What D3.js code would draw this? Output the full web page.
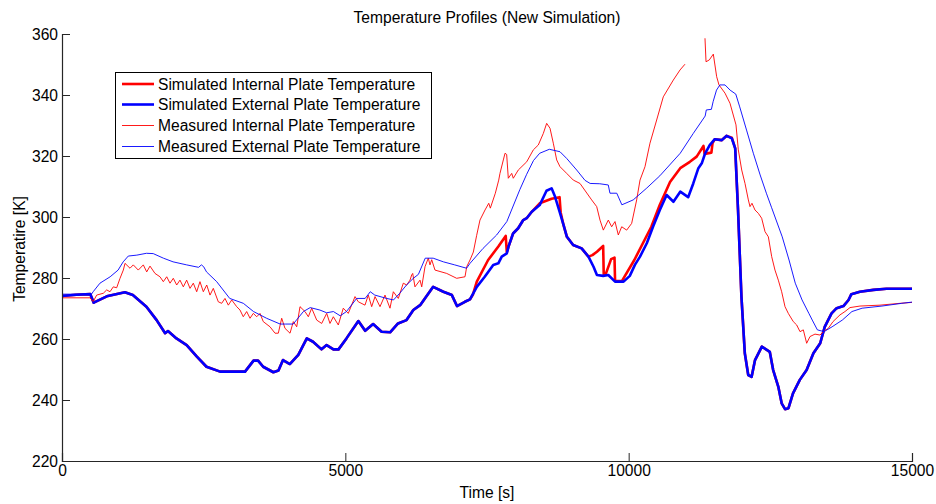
<!DOCTYPE html>
<html><head><meta charset="utf-8">
<script src="https://cdn.jsdelivr.net/npm/d3@7"></script>
<style>
html,body{margin:0;padding:0;background:#fff;}
svg{display:block;font-family:"Liberation Sans",Arial,Helvetica,sans-serif;}
</style></head><body>
<svg id="chart" width="936" height="504"></svg>
<script>
// ---- data ----
const chartTitle = "Temperature Profiles (New Simulation)";
const xLabel = "Time [s]";
const yLabel = "Temperatire [K]";
const xTicks = [0, 5000, 10000, 15000];
const yTicks = [220, 240, 260, 280, 300, 320, 340, 360];
const seriesNames = ["Simulated Internal Plate Temperature","Simulated External Plate Temperature","Measured Internal Plate Temperature","Measured External Plate Temperature"];

const simExternal = [[0,274.1],[250,274.5],[500,274.7],[560,271.9],[790,274],[1110,275.3],[1250,274.4],[1490,270.6],[1670,266.2],[1820,261.9],[1870,262.6],[2020,260.2],[2200,258],[2380,254.2],[2550,250.9],[2790,249.3],[3020,249.3],[3230,249.3],[3380,252.9],[3460,252.9],[3550,250.9],[3730,249.1],[3820,249.7],[3900,253.1],[4020,251.8],[4170,254.8],[4320,260.2],[4430,259.1],[4580,256.6],[4670,258],[4790,256.6],[4880,256.6],[5020,260.2],[5230,265.9],[5350,262.7],[5490,264.9],[5640,262.4],[5790,262.2],[5930,265.1],[6080,266.2],[6200,269.5],[6320,271.1],[6550,277.1],[6730,275.5],[6880,274.4],[6970,270.8],[7110,272.2],[7200,273],[7320,277.1],[7460,280.4],[7610,284.3],[7700,284.8],[7760,287],[7850,288.1],[7880,290.3],[7960,294.6],[8050,296.3],[8140,299],[8200,299.6],[8290,301.7],[8430,303.9],[8550,308.6],[8640,309.4],[8700,306.7],[8790,301.2],[8850,297.4],[8910,293.5],[9020,290.8],[9170,289.7],[9290,287],[9380,283.7],[9440,281],[9550,280.7],[9640,281],[9760,278.8],[9910,278.8],[10020,280.7],[10110,284.3],[10200,287],[10320,291.4],[10430,296.8],[10550,302.3],[10670,307.2],[10790,305],[10910,308.3],[11050,306.5],[11140,311],[11230,316],[11290,317.6],[11350,320.9],[11430,323.6],[11520,325.5],[11640,325.2],[11730,326.6],[11820,325.8],[11880,322.5],[11930,302.3],[11990,273.9],[12050,255.3],[12110,248.2],[12170,247.6],[12230,253.1],[12350,257.5],[12490,255.8],[12550,249.8],[12640,244.4],[12700,238.9],[12760,237],[12820,237.3],[12900,242.2],[13020,246.6],[13140,249.8],[13260,255.3],[13380,258.6],[13460,264],[13580,268.4],[13670,270.1],[13790,270.8],[13880,272.8],[13930,274.7],[14080,275.5],[14320,276.1],[14550,276.5],[15000,276.5]];

const simInternal = [[0,274.1],[250,274.5],[500,274.7],[560,271.9],[790,274],[1110,275.3],[1250,274.4],[1490,270.6],[1670,266.2],[1820,261.9],[1870,262.6],[2020,260.2],[2200,258],[2380,254.2],[2550,250.9],[2790,249.3],[3020,249.3],[3230,249.3],[3380,252.9],[3460,252.9],[3550,250.9],[3730,249.1],[3820,249.7],[3900,253.1],[4020,251.8],[4170,254.8],[4320,260.2],[4430,259.1],[4580,256.6],[4670,258],[4790,256.6],[4880,256.6],[5020,260.2],[5230,265.9],[5350,262.7],[5490,264.9],[5640,262.4],[5790,262.2],[5930,265.1],[6080,266.2],[6200,269.5],[6320,271.1],[6550,277.1],[6730,275.5],[6880,274.4],[6970,270.8],[7110,272.2],[7200,273],[7250,274.5],[7320,278.8],[7520,285.9],[7700,290.3],[7830,293.8],[7850,288.4],[7880,290.3],[7960,294.6],[8050,296.3],[8140,299],[8200,299.6],[8290,301.7],[8430,304.5],[8640,306],[8780,306.5],[8800,301.5],[8850,297.4],[8910,293.5],[9020,290.8],[9170,289.7],[9290,287],[9360,287.5],[9440,288.6],[9550,290.5],[9560,281],[9600,281.5],[9690,286.2],[9750,286.7],[9760,279],[9880,279],[10100,285.9],[10400,296.8],[10550,304],[10730,311.5],[10910,316],[11080,318.1],[11200,319.8],[11320,323.3],[11340,320.7],[11460,321.1],[11480,324.2],[11520,325.5],[11640,325.2],[11730,326.6],[11820,326],[11880,322.5],[11930,302.3],[11990,273.9],[12050,255.3],[12110,248.2],[12170,247.6],[12230,253.1],[12350,257.5],[12490,255.8],[12550,249.8],[12640,244.4],[12700,238.9],[12760,237],[12820,237.3],[12900,242.2],[13020,246.6],[13140,249.8],[13260,255.3],[13380,258.6],[13460,264],[13580,268.4],[13670,270.1],[13790,270.8],[13880,272.8],[13930,274.7],[14080,275.5],[14320,276.1],[14550,276.5],[15000,276.5]];

const measInternal = [[0,273.5],[494,273.5],[552,272.3],[612,274.4],[729,275],[789,276.1],[847,275.5],[905,277.1],[965,276.8],[1024,279.9],[1082,282.6],[1112,284.8],[1200,283.2],[1258,284.3],[1346,282.6],[1435,284.3],[1495,282],[1553,283.9],[1641,281.5],[1729,280.4],[1788,278.8],[1848,280.4],[1906,278.3],[1964,279.9],[2024,277.7],[2082,279.3],[2141,277.1],[2200,279.3],[2259,276.6],[2317,278.3],[2377,275.5],[2435,278.8],[2494,275.5],[2554,277.7],[2612,274.4],[2670,276.6],[2758,272.2],[2818,271.7],[2876,273.3],[2935,271.1],[2995,272.8],[3083,270.6],[3141,269.5],[3199,267.3],[3259,269],[3318,266.8],[3376,268.4],[3436,267.3],[3494,268.4],[3552,265.7],[3671,264],[3759,261.9],[3817,261.9],[3877,266.8],[3935,263.5],[4024,261.9],[4082,265.7],[4142,264],[4200,270.6],[4288,269],[4347,267.3],[4406,270.1],[4495,266.2],[4583,265.1],[4671,268.4],[4729,265.1],[4788,267.3],[4876,264.6],[4964,270.1],[5052,268.4],[5171,273.9],[5229,272.2],[5347,271.1],[5405,274.4],[5465,270.6],[5524,273.9],[5612,270.6],[5700,274.4],[5788,270.1],[5847,275.5],[5935,273.3],[6023,278.3],[6083,277.7],[6141,279.3],[6171,281],[6189,281.5],[6229,277.1],[6318,279.3],[6348,277.1],[6406,283.7],[6464,286.5],[6494,284.3],[6524,286],[6582,282.6],[6789,281.5],[6965,279.9],[7112,280.4],[7142,283.7],[7200,285.9],[7259,288.5],[7318,294],[7376,299],[7465,302.3],[7531,304.5],[7559,302.9],[7647,307.8],[7707,312.1],[7729,314.3],[7788,318.7],[7818,320.9],[7847,320.5],[7876,312.7],[7936,314.3],[7964,312.7],[8052,315.4],[8201,318.1],[8317,322],[8405,323.6],[8494,327.4],[8553,330.7],[8612,329.1],[8670,324.2],[8730,318.7],[8788,316.5],[8906,314.3],[9023,312.1],[9141,311],[9347,305.6],[9436,303.4],[9494,299],[9553,295.7],[9641,299],[9700,296.8],[9759,298.5],[9817,294.1],[9877,296.8],[9965,295.7],[10053,297.9],[10141,305.6],[10200,312.1],[10288,316.5],[10376,324.2],[10494,331.8],[10611,339.4],[10788,344.9],[10906,348.2],[10994,350.1],[11100,null],[11347,358.6],[11365,350.9],[11423,351.5],[11494,353.4],[11553,346],[11594,343.3],[11700,340.6],[11788,337.3],[11894,330.2],[11935,322],[11995,315.4],[12053,311],[12112,305.6],[12141,303.4],[12176,304.5],[12229,302.3],[12288,301.2],[12347,299.6],[12406,295.2],[12465,293.5],[12524,287],[12582,282.6],[12641,279.3],[12700,275.5],[12759,270.6],[12817,268.4],[12905,265.7],[12965,264.6],[13024,262.4],[13082,263],[13141,258.6],[13200,260.8],[13288,261.6],[13376,261.3],[13435,262.4],[13523,263.5],[13606,265.7],[13729,267.9],[13817,269],[13906,270.3],[14082,270.8],[14435,271.1],[14788,271.7],[15000,272]];

const measExternal = [[0,274.7],[520,274.7],[550,275.5],[670,278.3],[850,280.4],[990,282.6],[1080,285.3],[1170,287.2],[1320,287.5],[1490,288.1],[1610,288],[1790,286.5],[1960,285.3],[2200,284.3],[2410,283.5],[2460,284.3],[2500,283.7],[2550,282],[2730,278.8],[2960,273.3],[3200,271.7],[3380,269],[3610,266.8],[3850,264.9],[3940,264.9],[4080,264.9],[4260,269],[4380,270.3],[4550,269.5],[4670,268.6],[4790,269],[4910,267.6],[5020,269],[5200,273.3],[5350,273.3],[5440,275.5],[5520,274.4],[5730,273.3],[5850,272.8],[5960,275],[6080,277.7],[6200,279.9],[6290,281.2],[6410,286.5],[6550,286.5],[6730,285.3],[6930,284.3],[7140,283.2],[7200,284.8],[7430,289.7],[7670,294.1],[7850,298.5],[8080,309],[8200,314],[8320,318.5],[8430,320.9],[8600,322.2],[8788,321.4],[8906,319.2],[9083,315.4],[9230,312],[9320,311],[9490,310.9],[9640,310.5],[9670,307.8],[9790,307.8],[9880,304],[10080,305.6],[10320,309.5],[10550,313.5],[10910,320.9],[11140,327.4],[11350,333.1],[11370,335.1],[11460,335.3],[11490,337.8],[11550,341.6],[11610,343.3],[11700,343.3],[11790,341.6],[11890,340.3],[11960,336.1],[12080,328.5],[12200,320.9],[12320,313.8],[12430,307.8],[12520,303.2],[12710,293.5],[12830,285.9],[12940,278.3],[13060,272.8],[13180,268.4],[13240,266.2],[13330,263],[13450,262.4],[13500,263],[13590,264],[13770,266.2],[13940,269],[14120,270.1],[14470,270.8],[14820,271.7],[15000,272.1]];

// ---- layout ----
const svg = d3.select("#chart");
const M = {left:62, right:912, top:34, bottom:461};
const x = d3.scaleLinear().domain([0,15000]).range([M.left, M.right]);
const y = d3.scaleLinear().domain([220,360]).range([M.bottom, M.top]);
const FS = 15.6;
const axisColor = "#262626";

svg.append("defs").append("clipPath").attr("id","plotclip")
  .append("rect").attr("x",M.left).attr("y",M.top).attr("width",M.right-M.left).attr("height",M.bottom-M.top);

const line = d3.line().defined(d => d[1] !== null).x(d => x(d[0])).y(d => y(d[1]));
const plot = svg.append("g").attr("clip-path","url(#plotclip)");
const styles = [
  {data: simInternal, color:"#ff0000", w:2.6},
  {data: simExternal, color:"#0000ff", w:2.6},
  {data: measInternal, color:"#ff0000", w:0.9},
  {data: measExternal, color:"#0000ff", w:0.9}
];
styles.forEach(s => {
  plot.append("path").datum(s.data).attr("d", line)
    .attr("fill","none").attr("stroke", s.color).attr("stroke-width", s.w)
    .attr("stroke-linejoin","round");
});

// axes
const xAxis = d3.axisBottom(x).tickValues(xTicks).tickSize(-8).tickPadding(2).tickFormat(d3.format("d"));
const gx = svg.append("g").attr("transform",`translate(0,${M.bottom})`).call(xAxis);
const yAxis = d3.axisLeft(y).tickValues(yTicks).tickSize(-8).tickPadding(4).tickFormat(d3.format("d"));
const gy = svg.append("g").attr("transform",`translate(${M.left},0)`).call(yAxis);
[gx, gy].forEach(g => {
  g.select(".domain").attr("stroke", axisColor).attr("stroke-width",1.2);
  g.selectAll(".tick line").attr("stroke", axisColor);
  g.selectAll(".tick text").attr("fill","#000").attr("font-size",FS).attr("font-family","Liberation Sans, Arial, sans-serif");
});
gx.selectAll(".tick text").attr("dy","0.82em");
gy.selectAll(".tick text").attr("dy","0.36em");

// title and labels
svg.append("text").attr("x",(M.left+M.right)/2).attr("y",23).attr("text-anchor","middle")
  .attr("font-size",FS).text(chartTitle);
svg.append("text").attr("x",(M.left+M.right)/2).attr("y",498).attr("text-anchor","middle")
  .attr("font-size",FS).text(xLabel);
svg.append("text").attr("transform","translate(25,249) rotate(-90)").attr("text-anchor","middle")
  .attr("font-size",FS).text(yLabel);

// legend
const lg = svg.append("g");
lg.append("rect").attr("x",115.5).attr("y",72.5).attr("width",316).attr("height",86)
  .attr("fill","#fff").attr("stroke","#000").attr("stroke-width",1);
const rowY = [84, 104.5, 125.5, 146.5];
styles.forEach((s,i) => {
  lg.append("line").attr("x1",122).attr("x2",154).attr("y1",rowY[i]).attr("y2",rowY[i])
    .attr("stroke", s.color).attr("stroke-width", s.w);
  lg.append("text").attr("x",158).attr("y",rowY[i]).attr("dy","0.36em")
    .attr("font-size",FS).text(seriesNames[i]);
});
</script>
</body></html>
